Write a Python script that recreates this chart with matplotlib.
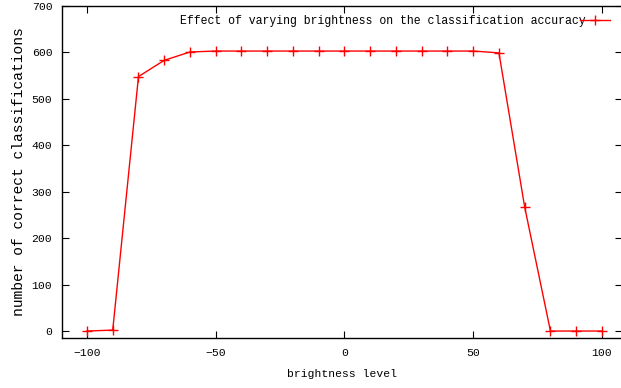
import numpy as np
import matplotlib
matplotlib.use('Agg')
import matplotlib.pyplot as plt

# brightness levels and correct classifications
brightness = [-100, -90, -80, -70, -60, -50, -40, -30, -20, -10, 0,
              10, 20, 30, 40, 50, 60, 70, 80, 90, 100]
correct = [0, 2, 548, 583, 601, 603, 603, 603, 603, 603, 603,
           603, 603, 603, 603, 603, 599, 267, 0, 0, 0]
xticks = [-100, -50, 0, 50, 100]
yticks = [0, 100, 200, 300, 400, 500, 600, 700]

plt.rcParams['font.family'] = 'Liberation Mono'
plt.rcParams['font.size'] = 8

fig = plt.figure(figsize=(6.21, 3.88), dpi=100)
ax = fig.add_axes([62 / 621, 50 / 388, 559.5 / 621, 332 / 388])

ax.plot(brightness, correct, color='#ff0000', marker='+', markersize=7,
        linewidth=1, label='Effect of varying brightness on the classification accuracy')

ax.set_xlim(-109.7, 107.6)
ax.set_ylim(-15, 700)
ax.set_xticks(xticks)
ax.set_yticks(yticks)
ax.tick_params(direction='in', length=5, width=0.8, top=True, right=True,
               labelsize=8.2, pad=7)

ax.set_xlabel('brightness level', fontsize=8.2, labelpad=8)
ax.set_ylabel('number of correct classifications', fontsize=10.5, labelpad=4)

for s in ax.spines.values():
    s.set_linewidth(1)

ax.legend(loc='upper right', markerfirst=False, frameon=False, handlelength=2.6,
          fontsize=8.3, borderaxespad=0.35, borderpad=0.4, handletextpad=-0.5,
          bbox_to_anchor=(0.995, 1.0))

fig.savefig('out.png', dpi=100)
